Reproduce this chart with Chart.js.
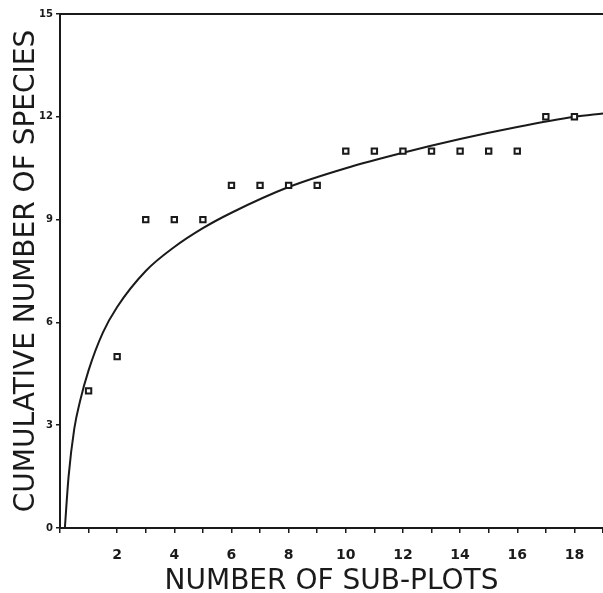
<!DOCTYPE html>
<html>
<head>
<meta charset="utf-8">
<script src="https://cdn.jsdelivr.net/npm/chart.js@4"></script>
<style>
  html, body { margin: 0; padding: 0; background: #fff; overflow: hidden; }
  #wrap { width: 603px; height: 593px; }
  canvas { display: block; }
</style>
</head>
<body>
<div id="wrap"><canvas id="chart"></canvas></div>
<script>
/* Observed cumulative species count per sub-plot */
var subPlots = [1, 2, 3, 4, 5, 6, 7, 8, 9, 10, 11, 12, 13, 14, 15, 16, 17, 18];
var speciesCount = [4, 5, 9, 9, 9, 10, 10, 10, 10, 11, 11, 11, 11, 11, 11, 11, 12, 12];

/* Fitted curve */
var curveX = [0.17, 0.3, 0.5, 0.7, 1, 1.5, 2, 3, 4, 5, 6, 8, 10, 12, 14, 16, 18, 19];
var curveY = [0, 1.5, 2.9, 3.7, 4.6, 5.7, 6.45, 7.5, 8.2, 8.75, 9.2, 9.95, 10.5, 10.95, 11.35, 11.7, 12.0, 12.1];

/* Axis ticks */
var yTicks = [0, 3, 6, 9, 12, 15];
var xLabelled = [2, 4, 6, 8, 10, 12, 14, 16, 18];

var INK = '#1a1a1a';
var FONT = "'DejaVu Sans', sans-serif";

var points = subPlots.map(function (x, i) { return { x: x, y: speciesCount[i] }; });
var curve = curveX.map(function (x, i) { return { x: x, y: curveY[i] }; });

new Chart(document.getElementById('chart'), {
  type: 'scatter',
  data: {
    datasets: [
      {
        label: 'Observed',
        data: points,
        pointStyle: 'rect',
        pointRadius: 3.8,
        borderWidth: 2,
        borderColor: INK,
        backgroundColor: '#fff'
      },
      {
        label: 'Fit',
        data: curve,
        showLine: true,
        pointRadius: 0,
        borderColor: INK,
        borderWidth: 2,
        cubicInterpolationMode: 'monotone',
        fill: false
      }
    ]
  },
  options: {
    responsive: true,
    maintainAspectRatio: false,
    animation: false,
    layout: { autoPadding: false, padding: { top: 14, right: 0, left: 0, bottom: 0 } },
    plugins: {
      legend: { display: false },
      tooltip: { enabled: false }
    },
    scales: {
      x: {
        type: 'linear',
        min: 0,
        max: 19,
        afterBuildTicks: function (axis) {
          var t = [];
          for (var i = 0; i <= 19; i++) t.push({ value: i });
          axis.ticks = t;
        },
        afterFit: function (axis) {
          axis.height = 65;
          axis.paddingLeft = 0;
          axis.paddingRight = 0;
        },
        ticks: {
          autoSkip: false,
          maxRotation: 0,
          color: INK,
          padding: 14,
          font: { family: FONT, size: 14, weight: 'bold' },
          callback: function (v) { return xLabelled.indexOf(v) >= 0 ? String(v) : ''; }
        },
        grid: { display: true, drawOnChartArea: false, tickLength: 5, color: INK, lineWidth: 1.5 },
        border: { display: true, color: INK, width: 2 },
        title: {
          display: true,
          text: 'NUMBER OF SUB-PLOTS',
          color: INK,
          padding: { top: 0, bottom: 0 },
          font: { family: FONT, size: 28, lineHeight: 0.8 }
        }
      },
      x2: {
        type: 'linear',
        position: 'top',
        min: 0,
        max: 19,
        afterFit: function (axis) {
          axis.height = 0;
          axis.paddingLeft = 0;
          axis.paddingRight = 0;
        },
        ticks: { display: false },
        grid: { display: false },
        border: { display: true, color: INK, width: 2 }
      },
      y: {
        min: 0,
        max: 15,
        afterBuildTicks: function (axis) {
          axis.ticks = yTicks.map(function (v) { return { value: v }; });
        },
        afterFit: function (axis) { axis.width = 60; },
        ticks: {
          color: INK,
          padding: 3,
          font: { family: FONT, size: 10, weight: 'bold' }
        },
        grid: { display: true, drawOnChartArea: false, tickLength: 4, color: INK, lineWidth: 1.5 },
        border: { display: true, color: INK, width: 2 },
        title: {
          display: true,
          text: 'CUMULATIVE NUMBER OF SPECIES',
          color: INK,
          padding: { top: 10, bottom: 0 },
          font: { family: FONT, size: 28 }
        }
      }
    }
  }
});
</script>
</body>
</html>
